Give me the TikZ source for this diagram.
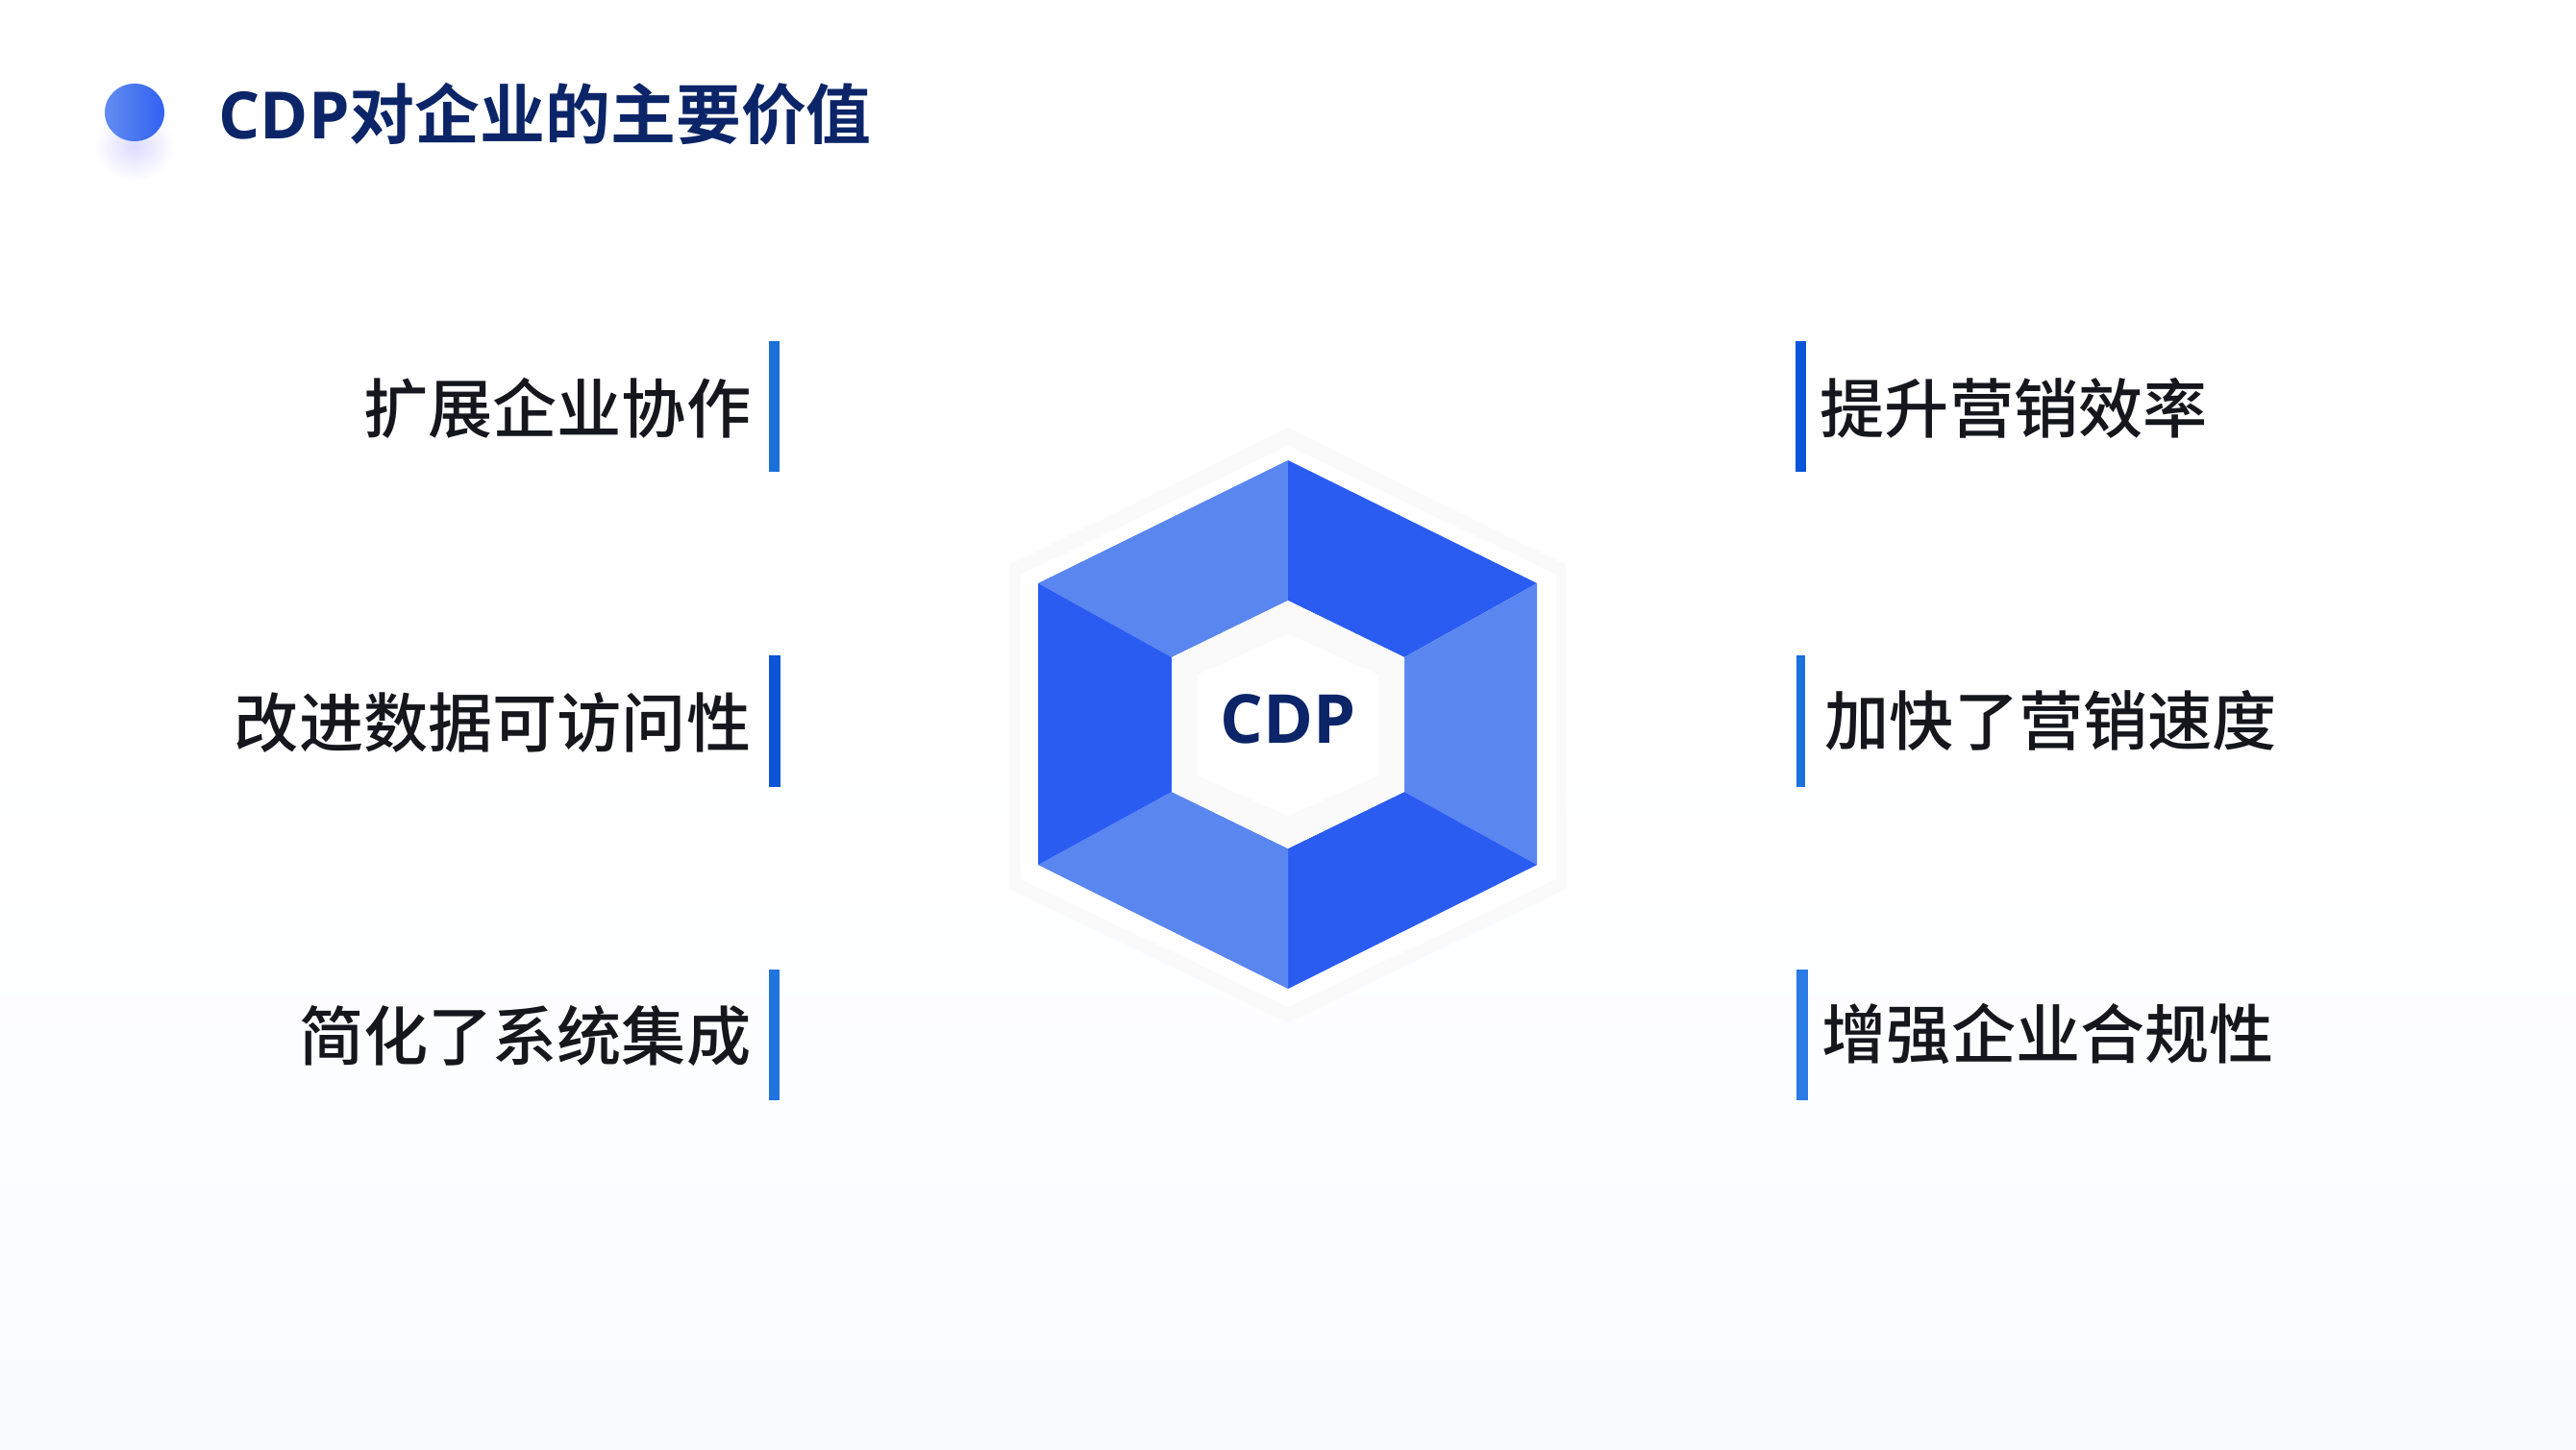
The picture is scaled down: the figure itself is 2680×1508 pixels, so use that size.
\documentclass[tikz,border=0pt]{standalone}
\usepackage{fontspec}
\usepackage{tikz}
\newfontfamily\cjkbold{Noto Sans CJK SC Bold}
\newfontfamily\cjkmedium{Noto Sans CJK SC Medium}
\newfontfamily\latinbold{Open Sans Bold}
\definecolor{FaceDark}{HTML}{2A5CF2}
\definecolor{FaceLight}{HTML}{5A86F0}
\definecolor{TitleNavy}{HTML}{0B2568}
\definecolor{LabelInk}{HTML}{15171D}
\definecolor{GlowGray}{HTML}{FAFAFA}
\definecolor{PageTint}{HTML}{F9FBFE}
\definecolor{BarLeftA}{HTML}{1A6FD8}
\definecolor{BarLeftB}{HTML}{0B55D6}
\definecolor{BarLeftC}{HTML}{1F74E0}
\definecolor{BarRightA}{HTML}{0A55D8}
\definecolor{BarRightB}{HTML}{1A72DC}
\definecolor{BarRightC}{HTML}{2A7BE5}

\begin{document}
\begin{tikzpicture}[x = 0.01cm, y = -0.01cm,
    leftlabel/.style = {anchor = east, inner sep = 0, text = LabelInk, font = \cjkmedium\fontsize{19.1}{22}\selectfont},
    rightlabel/.style = {anchor = west, inner sep = 0, text = LabelInk, font = \cjkmedium\fontsize{19.1}{22}\selectfont},
    hexface/.style = {line join = round}]
    \useasboundingbox (0, 0) rectangle (2680, 1508);
    \shade [top color = white, bottom color = PageTint, middle color = white] (0, 0) rectangle (2680, 1508);
    \shade [inner color = blue!14, outer color = white] (140, 152) ellipse (42 and 36);
    \shade [left color = FaceLight!95, right color = FaceDark!85!FaceLight] (140, 117) ellipse (31 and 30);
    \node [anchor = west, inner sep = 0, text = TitleNavy] (title) at (227, 119) {\fontsize{19.3}{22}\selectfont\latinbold CDP\cjkbold 对企业的主要价值};
    \fill [GlowGray] (1340, 445) -- (1629, 588) -- (1629, 925) -- (1340, 1064) -- (1050, 925) -- (1050, 588) -- cycle;
    \fill [white] (1340, 464) -- (1619, 598) -- (1619, 915) -- (1340, 1048) -- (1062, 915) -- (1062, 598) -- cycle;
    \fill [FaceLight, hexface] (1080, 607) -- (1340, 479) -- (1340, 625) -- (1219, 684) -- cycle;
    \fill [FaceDark, hexface] (1340, 479) -- (1599, 607) -- (1461, 684) -- (1340, 625) -- cycle;
    \fill [FaceLight, hexface] (1599, 607) -- (1599, 900) -- (1461, 824) -- (1461, 684) -- cycle;
    \fill [FaceDark, hexface] (1599, 900) -- (1340, 1029) -- (1340, 883) -- (1461, 824) -- cycle;
    \fill [FaceLight, hexface] (1340, 1029) -- (1080, 900) -- (1219, 824) -- (1340, 883) -- cycle;
    \fill [FaceDark, hexface] (1080, 900) -- (1080, 607) -- (1219, 684) -- (1219, 824) -- cycle;
    \fill [GlowGray] (1340, 625) -- (1461, 684) -- (1461, 824) -- (1340, 883) -- (1219, 824) -- (1219, 684) -- cycle;
    \fill [white] (1340, 660) -- (1434, 702) -- (1434, 807) -- (1340, 849) -- (1246, 807) -- (1246, 702) -- cycle;
    \node [inner sep = 0, text = TitleNavy] (cdp) at (1340, 748) {\fontsize{20}{22}\selectfont\latinbold CDP};
    \fill [BarLeftA] (800, 355) rectangle (811, 491);
    \fill [BarLeftB] (800, 682) rectangle (812, 819);
    \fill [BarLeftC] (800, 1009) rectangle (811, 1145);
    \fill [BarRightA] (1868, 355) rectangle (1879, 491);
    \fill [BarRightB] (1869, 682) rectangle (1878, 819);
    \fill [BarRightC] (1869, 1009) rectangle (1881, 1145);
    \node [leftlabel] (expand) at (782, 425) {扩展企业协作};
    \node [leftlabel] (access) at (782, 752) {改进数据可访问性};
    \node [leftlabel] (integrate) at (782, 1078) {简化了系统集成};
    \node [rightlabel] (efficiency) at (1893, 425) {提升营销效率};
    \node [rightlabel] (speed) at (1898, 750) {加快了营销速度};
    \node [rightlabel] (comply) at (1895, 1076) {增强企业合规性};
\end{tikzpicture}
\end{document}
